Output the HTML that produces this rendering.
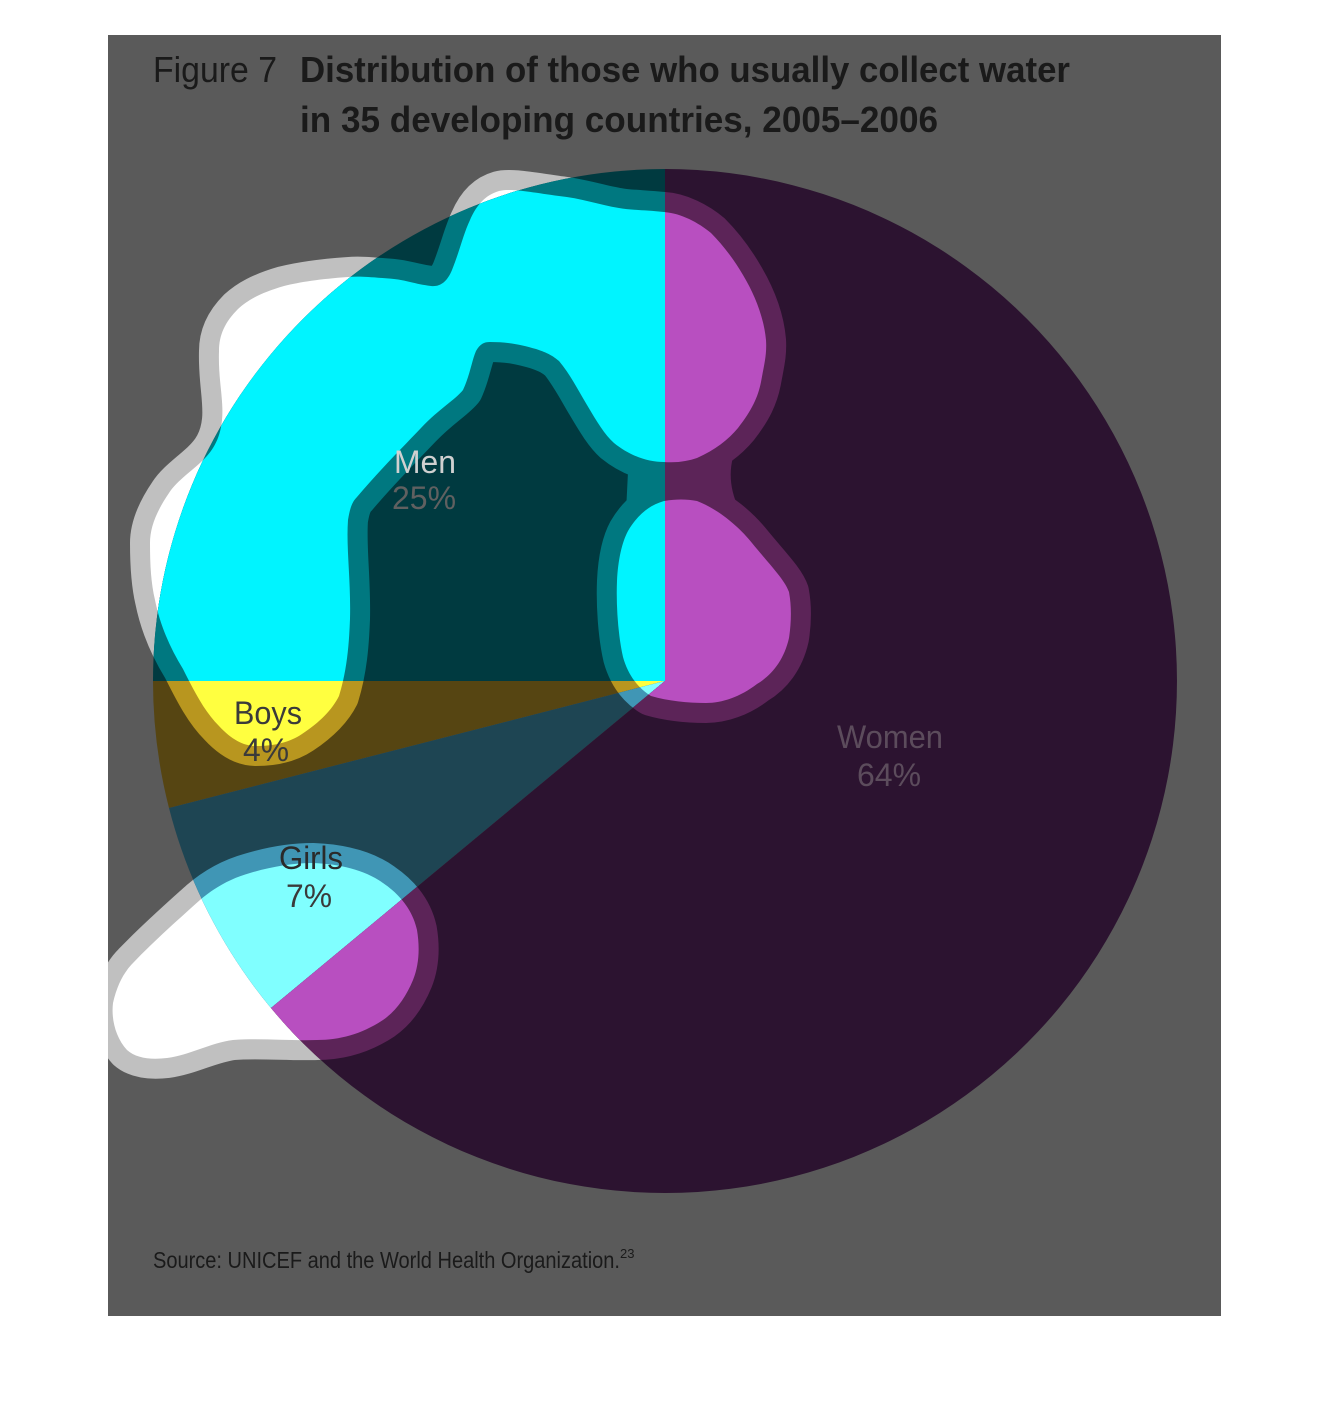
<!DOCTYPE html>
<html><head><meta charset="utf-8"><style>
html,body{margin:0;padding:0;background:#fff;}
svg{display:block;}
.t{font-family:"Liberation Sans Narrow","Liberation Sans",sans-serif;}
</style></head><body>
<svg width="1330" height="1410" viewBox="0 0 1330 1410" xmlns="http://www.w3.org/2000/svg">
<defs>
<path id="b1" d="M664,212 C645,210 630,210 619,208 C600,205 580,198 559,196 C530,192 510,188 499,191 C485,195 476,206 470,220 C463,235 460,250 452,270 C447,282 440,287 431,286 C415,284 405,280 394,279 C370,277 360,276 348,277 C320,279 300,282 284,286 C260,293 248,300 238,309 C225,322 219,335 219,351 C218,380 224,400 222,420 C220,440 212,452 201,462 C188,474 176,482 169,493 C156,512 150,528 150,543 C150,565 151,583 155,600 C160,625 170,648 183,669 C195,693 205,712 219,726 C232,740 244,746 256,746 C275,746 290,742 302,734 C320,722 332,710 339,696 C347,670 349,645 350,619 C351,580 346,548 348,520 C350,508 352,502 357,497 C380,470 400,450 421,428 C440,408 455,400 463,390 C470,375 472,360 476,351 C480,344 484,342 490,342 C510,342 522,345 536,349 C548,353 553,356 559,361 C570,374 578,390 587,405 C597,422 605,435 614,443 C630,456 648,462 664,462 C678,463 688,461 697,458 C715,450 728,440 738,428 C752,410 758,397 761,382 C764,365 767,355 766,340 C764,318 755,295 743,275 C733,258 722,244 711,233 C698,222 680,213 664,212 Z"/>
<path id="b2" d="M664,501 C675,499 687,499 697,501 C720,510 740,528 752,543 C770,565 785,580 789,592 C792,608 791,625 789,638 C784,660 772,675 757,684 C740,697 722,703 706,703 C688,703 668,701 651,696 C638,688 628,675 623,657 C618,635 616,605 617,581 C618,560 622,542 628,531 C638,514 650,505 664,501 Z"/>
<path id="b3" d="M113,1003 C117,985 124,972 133,963 C155,940 180,918 200,900 C215,887 232,878 250,873 C270,867 292,863 313,863 C340,864 365,870 383,883 C402,896 413,912 417,930 C420,948 419,965 413,980 C406,997 396,1011 383,1020 C362,1034 340,1040 317,1040 C290,1041 260,1038 233,1040 C210,1043 190,1055 167,1058 C150,1060 136,1058 127,1050 C116,1038 111,1020 113,1003 Z"/>
<g id="blobs"><use href="#b1"/><use href="#b2"/><use href="#b3"/></g>
<g id="neck"><path d="M628,472 L740,440 Q718,480 748,525 L626,512 Z"/></g>
<clipPath id="cMen"><path d="M665,681 L153,681 A512,512 0 0 1 665,169 Z"/></clipPath>
<clipPath id="cBoys"><path d="M665,681 L169,808 A512,512 0 0 1 153,681 Z"/></clipPath>
<clipPath id="cGirls"><path d="M665,681 L271,1008 A512,512 0 0 1 169,808 Z"/></clipPath>
<clipPath id="cWomen"><path d="M665,681 L665,169 A512,512 0 1 1 271,1008 Z"/></clipPath>
<clipPath id="cRect"><rect x="108" y="35" width="1113" height="1281"/></clipPath>
</defs>
<rect x="108" y="35" width="1113" height="1281" fill="#5a5a5a"/>
<g clip-path="url(#cRect)">
<use href="#blobs" fill="#c0c0c0" stroke="#c0c0c0" stroke-width="40" stroke-linejoin="round"/>
<use href="#blobs" fill="#ffffff"/>
</g>
<g clip-path="url(#cMen)">
<rect x="100" y="100" width="1200" height="1200" fill="#003a40"/>
<use href="#blobs" fill="#007880" stroke="#007880" stroke-width="40" stroke-linejoin="round"/>
<use href="#neck" fill="#007880"/>
<use href="#blobs" fill="#00f4ff"/>
</g>
<g clip-path="url(#cBoys)">
<rect x="100" y="100" width="1200" height="1200" fill="#564512"/>
<use href="#blobs" fill="#b8961f" stroke="#b8961f" stroke-width="40" stroke-linejoin="round"/>
<use href="#blobs" fill="#ffff40"/>
</g>
<g clip-path="url(#cGirls)">
<rect x="100" y="100" width="1200" height="1200" fill="#1e4553"/>
<use href="#blobs" fill="#4096b5" stroke="#4096b5" stroke-width="40" stroke-linejoin="round"/>
<use href="#blobs" fill="#80ffff"/>
</g>
<g clip-path="url(#cWomen)">
<rect x="100" y="100" width="1200" height="1200" fill="#2c1330"/>
<use href="#blobs" fill="#5c2458" stroke="#5c2458" stroke-width="40" stroke-linejoin="round"/>
<use href="#neck" fill="#5c2458"/>
<use href="#blobs" fill="#b84fc0"/>
</g>
<text class="t" x="153" y="82" font-size="36" fill="#1a1a1a" textLength="124" lengthAdjust="spacingAndGlyphs">Figure 7</text>
<text class="t" x="300" y="82" font-size="36" font-weight="bold" fill="#1a1a1a" textLength="770" lengthAdjust="spacingAndGlyphs">Distribution of those who usually collect water</text>
<text class="t" x="300" y="132" font-size="36" font-weight="bold" fill="#1a1a1a" textLength="638" lengthAdjust="spacingAndGlyphs">in 35 developing countries, 2005–2006</text>
<g class="t" font-size="32" text-anchor="middle">
<text x="425" y="473" fill="#d0d0d0" textLength="62" lengthAdjust="spacingAndGlyphs">Men</text>
<text x="424" y="509" fill="#606060" textLength="64" lengthAdjust="spacingAndGlyphs">25%</text>
<text x="268" y="724" fill="#3a3a3a" textLength="68" lengthAdjust="spacingAndGlyphs">Boys</text>
<text x="266" y="761" fill="#3a3a3a" textLength="46" lengthAdjust="spacingAndGlyphs">4%</text>
<text x="311" y="869" fill="#2a2a2a" textLength="64" lengthAdjust="spacingAndGlyphs">Girls</text>
<text x="309" y="907" fill="#3a3a3a" textLength="46" lengthAdjust="spacingAndGlyphs">7%</text>
<text x="890" y="748" fill="#5c4c5c" textLength="106" lengthAdjust="spacingAndGlyphs">Women</text>
<text x="889" y="786" fill="#5c4c5c" textLength="64" lengthAdjust="spacingAndGlyphs">64%</text>
</g>
<text class="t" x="153" y="1268" font-size="23" fill="#1a1a1a"><tspan textLength="467" lengthAdjust="spacingAndGlyphs">Source: UNICEF and the World Health Organization.</tspan><tspan font-size="13" dy="-10">23</tspan></text>
</svg>
</body></html>
